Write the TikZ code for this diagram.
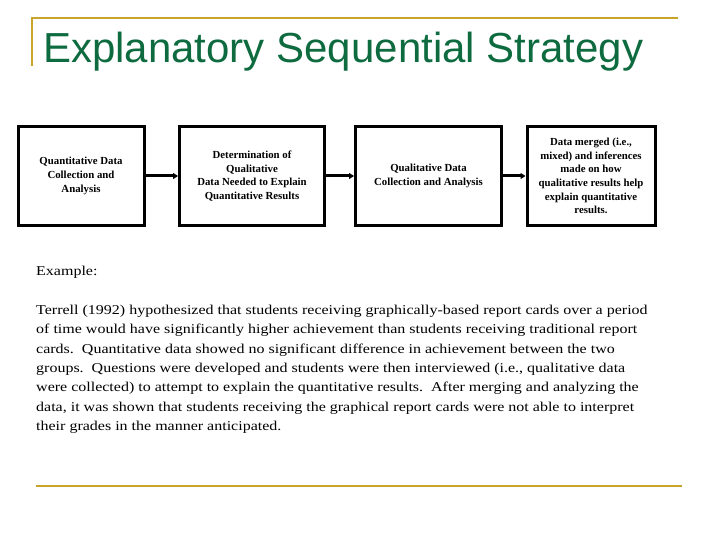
\documentclass[tikz,border=0pt]{standalone}
\usepackage{fontspec}
\setmainfont{Liberation Serif}
\newfontfamily\titlefont{Liberation Sans}
\newfontfamily\bodyfont[FakeStretch=1.185]{Liberation Serif}
\usetikzlibrary{arrows.meta}
\definecolor{gold}{HTML}{C8A42A}
\definecolor{ttl}{HTML}{0E6B3F}
\begin{document}
\begin{tikzpicture}[x=1pt,y=-1pt,
  boxst/.style={draw=black,line width=3pt,minimum width=126pt,minimum height=99pt,inner sep=2pt,align=center,font=\fontsize{10.8}{13.6}\selectfont\bfseries},
  arr/.style={line width=3pt,-{Triangle[length=5pt,width=6pt]}}]
\useasboundingbox (0,0) rectangle (720,540);
\draw[gold,line width=2.5pt] (32,66) -- (32,18) -- (678,18);
\draw[gold,line width=2.5pt] (36,486) -- (682,486);
\node[anchor=west,text=ttl,font=\titlefont\fontsize{42}{46}\selectfont,inner sep=0] (t) at (43,52) {Explanatory Sequential Strategy};
\node[boxst] (b1) at (81,176) {Quantitative Data\\Collection and\\Analysis};
\node[boxst,minimum width=145pt] (b2) at (252,176) {Determination of\\Qualitative\\Data Needed to Explain\\Quantitative Results};
\node[boxst,minimum width=146pt] (b3) at (428.5,176) {Qualitative Data\\Collection and Analysis};
\node[boxst,minimum width=128pt] (b4) at (591,176) {Data merged (i.e.,\\mixed) and inferences\\made on how\\qualitative results help\\explain quantitative\\results.};
\draw[arr] (b1.east) -- (b2.west);
\draw[arr] (b2.east) -- (b3.west);
\draw[arr] (b3.east) -- (b4.west);
\node[anchor=north west,inner sep=0,font=\bodyfont\fontsize{13.5}{16}\selectfont] (ex) at (36,266) {Example:};
\node[anchor=north west,inner sep=0,align=left,font=\bodyfont\fontsize{13.5}{19.3}\selectfont] (body) at (36,305) {Terrell (1992) hypothesized that students receiving graphically-based report cards over a period\\of time would have significantly higher achievement than students receiving traditional report\\cards.\ \ Quantitative data showed no significant difference in achievement between the two\\groups.\ \ Questions were developed and students were then interviewed (i.e., qualitative data\\were collected) to attempt to explain the quantitative results.\ \ After merging and analyzing the\\data, it was shown that students receiving the graphical report cards were not able to interpret\\their grades in the manner anticipated.};
\end{tikzpicture}
\end{document}
